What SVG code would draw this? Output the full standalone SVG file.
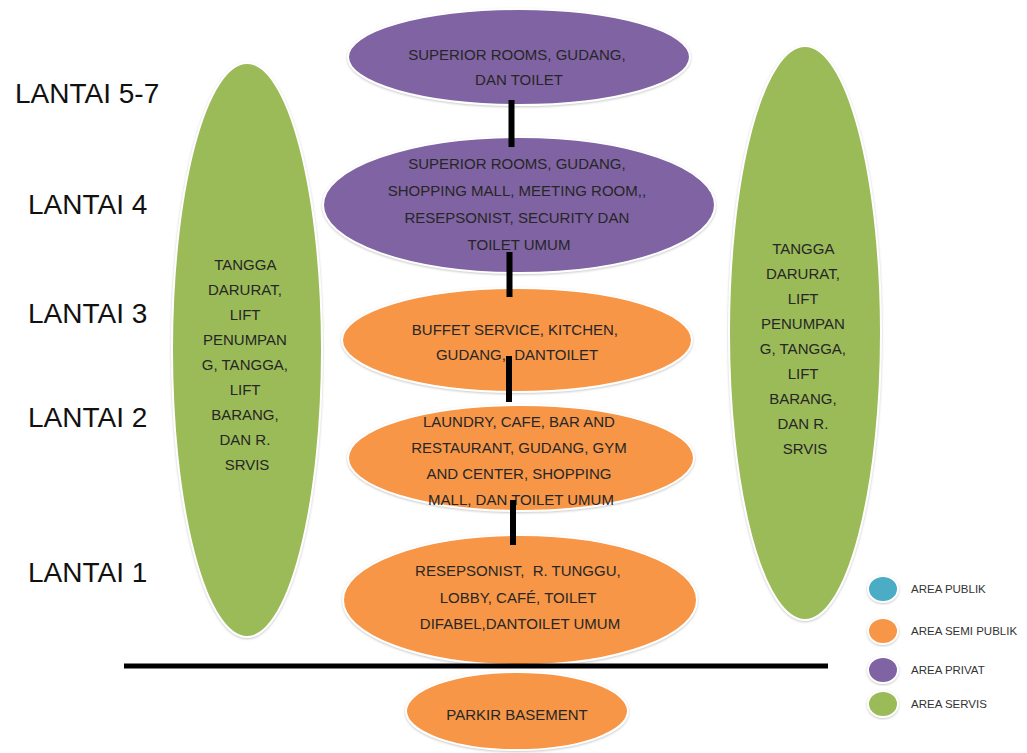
<svg xmlns="http://www.w3.org/2000/svg" width="1027" height="753" viewBox="0 0 1027 753">
  <defs>
    <filter id="soft" x="-10%" y="-10%" width="120%" height="120%">
      <feDropShadow dx="0" dy="1" stdDeviation="1.2" flood-color="#9a9a9a" flood-opacity="0.55"/>
    </filter>
    <style>
      .zone { stroke: #ffffff; stroke-width: 2; filter: url(#soft); }
      .privat { fill: #8064A2; }
      .semi { fill: #F79646; }
      .servis { fill: #9BBB59; }
      .publik { fill: #4BACC6; }
      .t { font-family: "Liberation Sans", Arial, sans-serif; font-size: 15px; fill: #262626; text-anchor: middle; }
      .floor { font-family: "Liberation Sans", Arial, sans-serif; font-size: 28px; fill: #111111; }
      .key { font-family: "Liberation Sans", Arial, sans-serif; font-size: 11.5px; fill: #333333; }
      .link { stroke: #000000; stroke-width: 6; }
    </style>
  </defs>
  <rect width="1027" height="753" fill="#ffffff"/>

  <!-- floor labels -->
  <g id="floor-labels">
    <text class="floor" x="15" y="103">LANTAI 5-7</text>
    <text class="floor" x="28" y="214">LANTAI 4</text>
    <text class="floor" x="28" y="323">LANTAI 3</text>
    <text class="floor" x="28" y="427">LANTAI 2</text>
    <text class="floor" x="28" y="582">LANTAI 1</text>
  </g>

  <!-- service cores on both sides -->
  <g id="servis-left">
    <ellipse class="zone servis" cx="247" cy="350" rx="75" ry="287"/>
    <text class="t">
      <tspan x="247" y="270">TANGGA</tspan>
      <tspan x="247" y="295">DARURAT,</tspan>
      <tspan x="247" y="320">LIFT</tspan>
      <tspan x="247" y="345">PENUMPAN</tspan>
      <tspan x="247" y="370">G, TANGGA,</tspan>
      <tspan x="247" y="395">LIFT</tspan>
      <tspan x="247" y="420">BARANG,</tspan>
      <tspan x="247" y="445">DAN R.</tspan>
      <tspan x="247" y="470">SRVIS</tspan>
    </text>
  </g>
  <g id="servis-right">
    <ellipse class="zone servis" cx="805" cy="333" rx="76" ry="287"/>
    <text class="t">
      <tspan x="805" y="254">TANGGA</tspan>
      <tspan x="805" y="279">DARURAT,</tspan>
      <tspan x="805" y="304">LIFT</tspan>
      <tspan x="805" y="329">PENUMPAN</tspan>
      <tspan x="805" y="354">G, TANGGA,</tspan>
      <tspan x="805" y="379">LIFT</tspan>
      <tspan x="805" y="404">BARANG,</tspan>
      <tspan x="805" y="429">DAN R.</tspan>
      <tspan x="805" y="454">SRVIS</tspan>
    </text>
  </g>

  <!-- floor zones -->
  <g id="lantai-5-7">
    <ellipse class="zone privat" cx="519" cy="57" rx="171" ry="48"/>
    <text class="t">
      <tspan x="519" y="60">SUPERIOR ROOMS, GUDANG,</tspan>
      <tspan x="519" y="85">DAN TOILET</tspan>
    </text>
  </g>
  <g id="lantai-4">
    <ellipse class="zone privat" cx="519" cy="205" rx="196" ry="68"/>
    <text class="t">
      <tspan x="519" y="169">SUPERIOR ROOMS, GUDANG,</tspan>
      <tspan x="519" y="196">SHOPPING MALL, MEETING ROOM,,</tspan>
      <tspan x="519" y="223">RESEPSONIST, SECURITY DAN</tspan>
      <tspan x="519" y="250">TOILET UMUM</tspan>
    </text>
  </g>
  <g id="lantai-3">
    <ellipse class="zone semi" cx="517" cy="340" rx="175" ry="52"/>
    <text class="t">
      <tspan x="517" y="335">BUFFET SERVICE, KITCHEN,</tspan>
      <tspan x="517" y="360">GUDANG,&#160; DANTOILET</tspan>
    </text>
  </g>
  <g id="lantai-2">
    <ellipse class="zone semi" cx="521" cy="458" rx="173" ry="53"/>
    <text class="t">
      <tspan x="521" y="427">LAUNDRY, CAFE, BAR AND</tspan>
      <tspan x="521" y="453">RESTAURANT, GUDANG, GYM</tspan>
      <tspan x="521" y="479">AND CENTER, SHOPPING</tspan>
      <tspan x="521" y="505">MALL, DAN TOILET UMUM</tspan>
    </text>
  </g>
  <g id="lantai-1">
    <ellipse class="zone semi" cx="520" cy="600" rx="177" ry="65"/>
    <text class="t">
      <tspan x="520" y="576">RESEPSONIST,&#160; R. TUNGGU,</tspan>
      <tspan x="520" y="603">LOBBY, CAFÉ, TOILET</tspan>
      <tspan x="520" y="629">DIFABEL,DANTOILET UMUM</tspan>
    </text>
  </g>

  <!-- connectors between floors, drawn over the zones -->
  <g id="connectors">
    <line class="link" x1="511.5" y1="100" x2="511.5" y2="147"/>
    <line class="link" x1="509.5" y1="252" x2="509.5" y2="297"/>
    <line class="link" x1="509" y1="356" x2="509" y2="402"/>
    <line class="link" x1="513" y1="500" x2="513" y2="545"/>
  </g>

  <!-- ground line -->
  <g id="ground">
    <line x1="124" y1="666" x2="828" y2="666" stroke="#000000" stroke-width="5"/>
  </g>

  <g id="basement">
    <ellipse class="zone semi" cx="517" cy="711" rx="111" ry="39"/>
    <text class="t" x="517" y="720">PARKIR BASEMENT</text>
  </g>

  <!-- legend -->
  <g id="legend">
    <ellipse class="zone publik" cx="883" cy="589" rx="15" ry="13"/>
    <text class="key" x="911" y="593">AREA PUBLIK</text>
    <ellipse class="zone semi" cx="883" cy="631" rx="15" ry="13"/>
    <text class="key" x="911" y="635">AREA SEMI PUBLIK</text>
    <ellipse class="zone privat" cx="883" cy="670" rx="15" ry="13"/>
    <text class="key" x="911" y="674">AREA PRIVAT</text>
    <ellipse class="zone servis" cx="883" cy="704" rx="15" ry="13"/>
    <text class="key" x="911" y="708">AREA SERVIS</text>
  </g>
</svg>
